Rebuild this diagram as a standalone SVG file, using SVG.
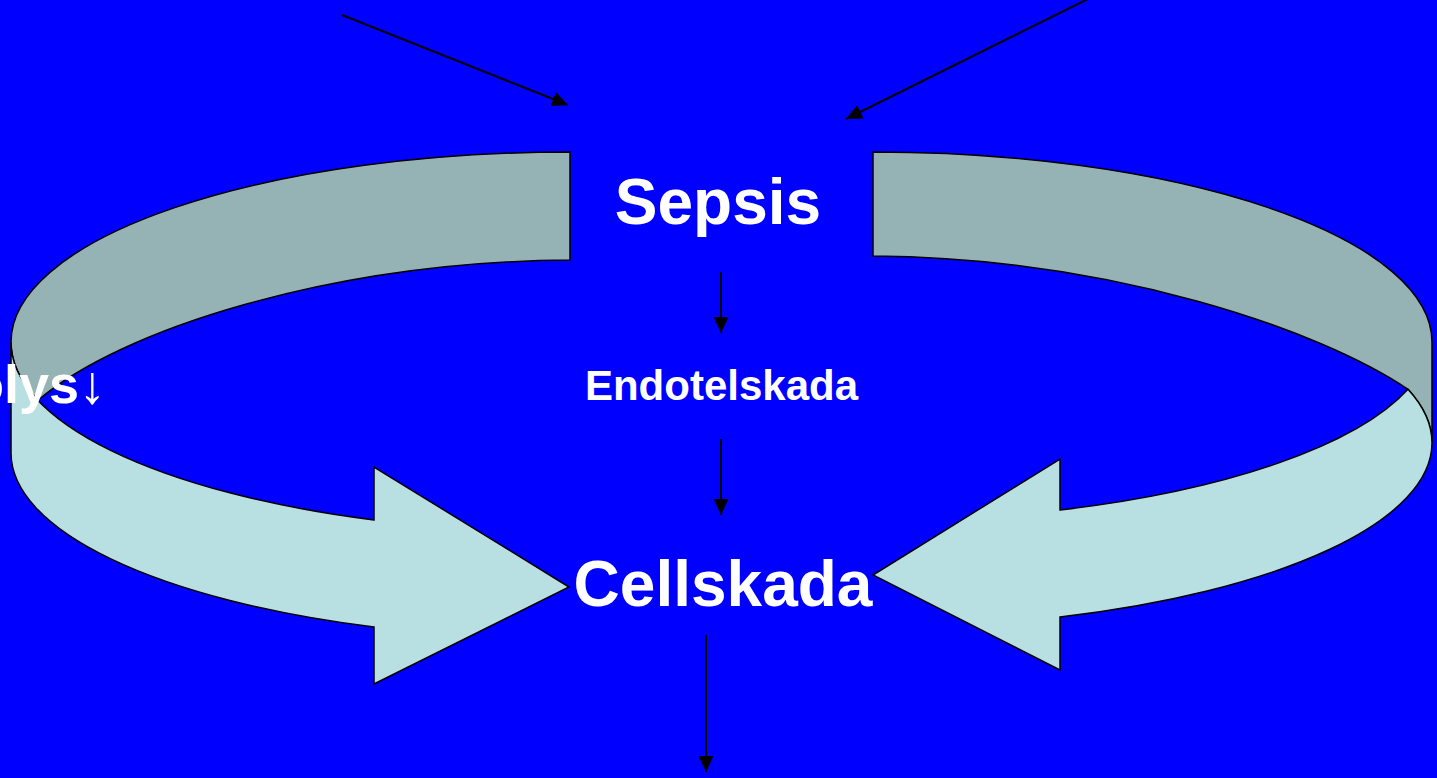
<svg xmlns="http://www.w3.org/2000/svg" width="1437" height="778" viewBox="0 0 1437 778">
  <style>
    .back { fill: #95B2B4; stroke: #000; stroke-width: 1.5; stroke-linejoin: miter; }
    .front { fill: #B8DFE2; stroke: #000; stroke-width: 1.5; stroke-linejoin: miter; }
    .conn { stroke: #000; stroke-width: 2; fill: none; marker-end: url(#head); }
    .lbl { font-family: "Liberation Sans", Arial, sans-serif; font-weight: bold; fill: #fff; text-anchor: middle; }
  </style>
  <defs>
    <marker id="head" markerUnits="userSpaceOnUse" markerWidth="16" markerHeight="15" refX="16" refY="7.5" orient="auto" viewBox="0 0 16 15">
      <path d="M0,0 L16,7.5 L0,15 Z" fill="#000"/>
    </marker>
  </defs>
  <rect x="0" y="0" width="1437" height="778" fill="#0000FF"/>

  <g id="left-cycle-arrow">
    <path class="back" d="M570,152 A559,190 0 0 0 11,342 A559,190 0 0 0 38,400.3 C120,330 330,262 570,260 Z"/>
    <path class="front" d="M11,342 L11,453 A559,186 0 0 0 374,627 L374,684 L569,587 L374,467 L374,520 A559,190 0 0 1 11,342 Z"/>
  </g>

  <g id="right-cycle-arrow">
    <path class="back" d="M873,152 A559,190 0 0 1 1432,342 L1432,443 A559,185 0 0 0 1408,389.3 C1320,330 1113,258 873,256 Z"/>
    <path class="front" d="M1408,389.3 A559,185 0 0 1 1432,443 A559,185 0 0 1 1060,617 L1060,670 L873,575 L1060,459 L1060,510 A559,185 0 0 0 1408,389.3 Z"/>
  </g>

  <g id="connectors">
    <line class="conn" x1="342" y1="15" x2="568" y2="105"/>
    <line class="conn" x1="1092" y1="-3" x2="846" y2="119"/>
    <line class="conn" x1="721" y1="272" x2="721" y2="333"/>
    <line class="conn" x1="721" y1="439" x2="721" y2="515"/>
    <line class="conn" x1="706" y1="635" x2="706" y2="772"/>
  </g>

  <g id="sepsis"><text class="lbl" x="718" y="224" font-size="64">Sepsis</text></g>
  <g id="endotelskada"><text class="lbl" x="721.5" y="400" font-size="42">Endotelskada</text></g>
  <g id="cellskada"><text class="lbl" x="723" y="606" font-size="64">Cellskada</text></g>
  <g id="fibrinolys"><text class="lbl" x="106" y="403" font-size="54" style="text-anchor:end">Fibrinolys↓</text></g>
</svg>
